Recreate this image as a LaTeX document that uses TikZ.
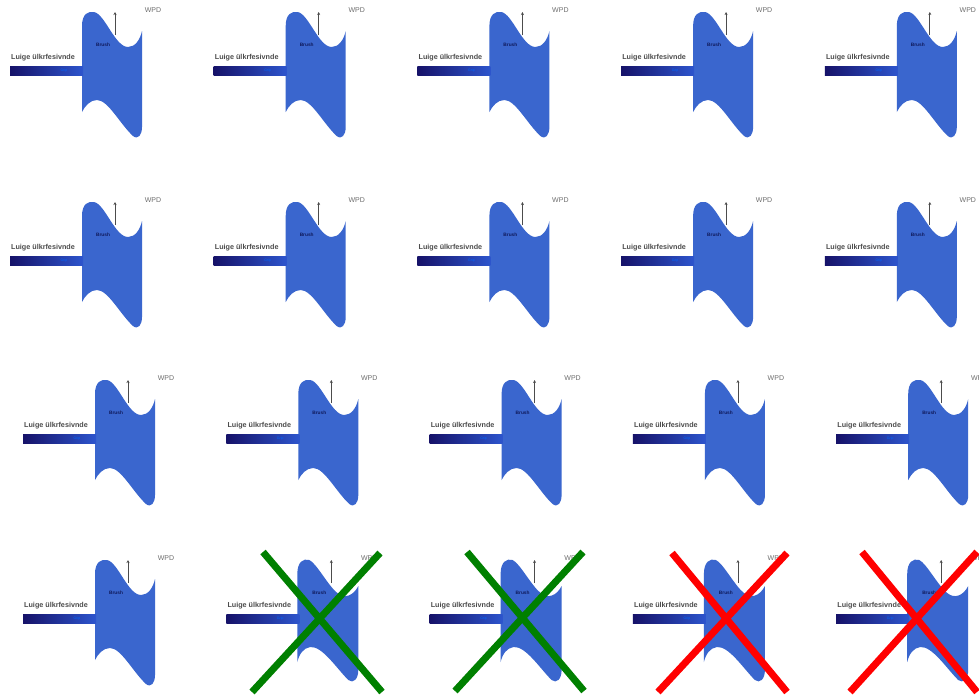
\documentclass[tikz,border=0pt]{standalone}
\usepackage{fontspec}
\setmainfont{Liberation Sans}
\usetikzlibrary{arrows.meta}
\definecolor{blobblue}{RGB}{58,102,206}
\definecolor{barnavy}{RGB}{22,18,105}
\definecolor{barblue}{RGB}{45,85,205}
\definecolor{xgreen}{RGB}{0,128,0}
\definecolor{xred}{RGB}{255,0,0}
\definecolor{wpdgray}{RGB}{110,110,110}
\definecolor{brushnavy}{RGB}{15,25,90}
\tikzset{
  lbl/.style={font=\fontsize{7.2}{8}\selectfont\bfseries, text=black!70, inner sep=0pt, anchor=west},
  grip/.style={font=\fontsize{3.5}{4}\selectfont, text=blue!60!cyan, inner sep=0pt},
  brush/.style={font=\fontsize{4.8}{5}\selectfont\bfseries, text=brushnavy, inner sep=0pt},
  wpd/.style={font=\fontsize{7}{8}\selectfont, text=wpdgray, inner sep=0pt},
  arr/.style={draw=black!70, line width=0.7pt, -{Stealth[length=3pt,width=3pt]}},
  xmark/.style={line width=7pt},
  tilecommon/.pic={
    \shade[left color=barnavy, right color=barblue] (10,66) rectangle (83,75);
    \node[lbl] (-lbl) at (11,58) {Luige ülkrfesivnde};
    \node[grip] (-grip) at (64,70.5) {Grip};
    \node[brush] (-brush) at (103,45) {Brush};
    \node[wpd] (-wpd) at (153,10) {WPD};
    \coordinate (-abase) at (115,35);
    \coordinate (-atip) at (115,12);
    \draw[arr] (-abase) -- (-atip);
  },
  tileA/.pic={
    \fill[blobblue] (82,112) -- (82,26)
      .. controls (82,14) and (88,11) .. (94,12)
      .. controls (105,14) and (115,47) .. (128,47)
      .. controls (135,47) and (140,40) .. (142,31)
      -- (142,127)
      .. controls (142,135) and (138,140) .. (133,136)
      .. controls (120,124) and (108,100) .. (97,100)
      .. controls (90,100) and (85,106) .. (82,112) -- cycle;
    \pic (-c) at (0,0) {tilecommon};
  },
  tileB/.pic={
    \fill[blobblue] (81,114) -- (81,26)
      .. controls (81,14) and (87,10) .. (93,12)
      .. controls (100,15) and (112,38) .. (121,45)
      .. controls (128,51) and (137,48) .. (142,38)
      -- (142,122)
      .. controls (142,131) and (137,136) .. (132,132)
      .. controls (120,120) and (106,98) .. (94,99)
      .. controls (87,100) and (83,106) .. (81,114) -- cycle;
    \pic (-c) at (0,0) {tilecommon};
  },
}
\begin{document}
\begin{tikzpicture}[x=1pt,y=-1pt]
  \useasboundingbox[fill=white] (0,0) rectangle (979,697);
  \foreach \c in {0,...,4}{
    \pic (ta\c) at ({\c*203.7},0) {tileA};
    \pic (tb\c) at ({\c*203.7},190) {tileA};
    \pic (tc\c) at ({13+\c*203.3},368) {tileA};
  }
  \pic (td0) at (13,548) {tileA};
  \foreach \c in {1,...,4}{
    \pic (td\c) at ({13+\c*203.3},548) {tileB};
  }
  % crosses
  \coordinate (g1a) at (263,552); \coordinate (g1b) at (382,692);
  \coordinate (g1c) at (380,553); \coordinate (g1d) at (252,692);
  \coordinate (g2a) at (467,552); \coordinate (g2b) at (584,691);
  \coordinate (g2c) at (583,552); \coordinate (g2d) at (455,691);
  \coordinate (r1a) at (672,553); \coordinate (r1b) at (787,692);
  \coordinate (r1c) at (787,553); \coordinate (r1d) at (658,692);
  \coordinate (r2a) at (862,552); \coordinate (r2b) at (977,692);
  \coordinate (r2c) at (977,552); \coordinate (r2d) at (850,692);
  \draw[xmark, xgreen] (g1a) -- (g1b) (g1c) -- (g1d);
  \draw[xmark, xgreen] (g2a) -- (g2b) (g2c) -- (g2d);
  \draw[xmark, xred] (r1a) -- (r1b) (r1c) -- (r1d);
  \draw[xmark, xred] (r2a) -- (r2b) (r2c) -- (r2d);
\end{tikzpicture}
\end{document}
